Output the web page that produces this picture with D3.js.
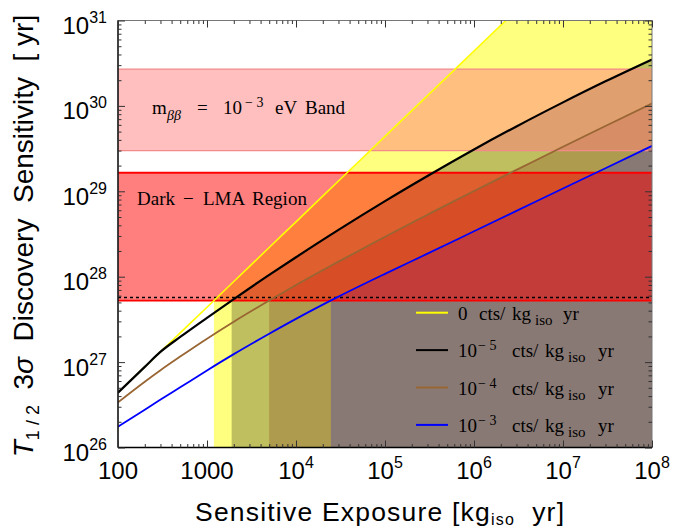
<!DOCTYPE html>
<html>
<head>
<meta charset="utf-8">
<script src="https://cdn.jsdelivr.net/npm/d3@7"></script>
<style>
  body { margin: 0; background: #fff; }
  text { font-family: "Liberation Sans", Arial, sans-serif; }
  .serif { font-family: "Liberation Serif", "Times New Roman", serif; }
</style>
</head>
<body>
<div id="chart"></div>
<script>
// Sensitive exposure [kg_iso yr]
var exposure = [100, 200, 295, 500, 1000, 2000, 5000, 1e4, 3e4, 1e5, 3e5, 1e6, 3e6, 1e7, 3e7, 1e8];

// 3 sigma discovery half-life sensitivity [yr] for each background level
var bkg0    = [4.39e26, 8.78e26, 1.30e27, 2.2e27, 4.39e27, 8.78e27, 2.2e28, 4.39e28, 1.32e29, 4.39e29, 1.32e30, 4.39e30, 1.32e31, 4.39e31, 1.32e32, 4.39e32];
var bkg1em5 = [4.39e26, 8.8e26, 1.30e27, 1.97e27, 3.30e27, 5.47e27, 1.05e28, 1.69e28, 3.53e28, 7.67e28, 1.51e29, 3.09e29, 5.75e29, 1.10e30, 1.94e30, 3.50e30];
var bkg1em4 = [3.38e26, 5.9e26, 7.93e26, 1.16e27, 1.88e27, 2.97e27, 5.26e27, 7.98e27, 1.50e28, 2.94e28, 5.32e28, 1.01e29, 1.78e29, 3.32e29, 5.81e29, 1.07e30];
var bkg1em3 = [1.75e26, 2.77e26, 3.59e26, 5.07e26, 7.99e26, 1.24e27, 2.15e27, 3.21e27, 5.84e27, 1.08e28, 1.86e28, 3.40e28, 5.90e28, 1.08e29, 1.86e29, 3.40e29];

// horizontal bands [yr]
var mbbBand = [3.0e29, 2.7e30];
var lmaBand = [5.25e27, 1.65e29];
var dashedLevel = 5.7e27;

// tick labels
var xTicks = [1e2, 1e3, 1e4, 1e5, 1e6, 1e7, 1e8];
var xTickLabels = ["100", "1000", "10^4", "10^5", "10^6", "10^7", "10^8"];
var yTicks = [1e26, 1e27, 1e28, 1e29, 1e30, 1e31];
var yTickLabels = ["10^26", "10^27", "10^28", "10^29", "10^30", "10^31"];

var series = [
  { values: bkg0,    color: "#ffff00", fill: "rgba(255,255,0,0.5)",  width: 1.6, exp: null },
  { values: bkg1em5, color: "#000000", fill: "rgba(0,0,0,0.25)",     width: 2.2, exp: "5" },
  { values: bkg1em4, color: "#996633", fill: "rgba(153,102,51,0.4)", width: 1.8, exp: "4" },
  { values: bkg1em3, color: "#0000ff", fill: "rgba(0,0,255,0.22)",   width: 1.8, exp: "3" }
];

var W = 673, H = 529;
var margin = { top: 20.5, right: 21, bottom: 81.5, left: 118 },
    width = W - margin.left - margin.right,
    height = H - margin.top - margin.bottom;

var svg = d3.select("#chart").append("svg")
    .attr("width", W).attr("height", H);

var g = svg.append("g")
    .attr("transform", `translate(${margin.left},${margin.top})`);

var x = d3.scaleLog().domain([1e2, 1e8]).range([0, width]);
var y = d3.scaleLog().domain([1e26, 1e31]).range([height, 0]);

g.append("clipPath").attr("id", "plotclip")
  .append("rect").attr("width", width).attr("height", height);

var plot = g.append("g").attr("clip-path", "url(#plotclip)");

// exposure where a curve enters the LMA band (log interpolation)
function crossing(vals, level) {
  for (var i = 1; i < vals.length; i++) {
    if (vals[i] >= level && vals[i - 1] < level) {
      var t = (Math.log(level) - Math.log(vals[i - 1])) / (Math.log(vals[i]) - Math.log(vals[i - 1]));
      return Math.exp(Math.log(exposure[i - 1]) + t * (Math.log(exposure[i]) - Math.log(exposure[i - 1])));
    }
  }
  return exposure[0];
}

// filled regions below each curve, right of where it enters the LMA band
series.forEach(function(s) {
  var xc = crossing(s.values, lmaBand[0]);
  var pts = [[xc, lmaBand[0]]];
  exposure.forEach(function(e, i) { if (e > xc) pts.push([e, s.values[i]]); });
  plot.append("path")
    .attr("d", d3.area().curve(d3.curveMonotoneX)
      .x(d => x(d[0])).y0(height).y1(d => y(d[1]))(pts))
    .attr("fill", s.fill);
});

// bands
plot.append("rect")
  .attr("x", 0).attr("width", width)
  .attr("y", y(mbbBand[1])).attr("height", y(mbbBand[0]) - y(mbbBand[1]))
  .attr("fill", "rgba(255,128,128,0.5)");
plot.append("rect")
  .attr("x", 0).attr("width", width)
  .attr("y", y(lmaBand[1])).attr("height", y(lmaBand[0]) - y(lmaBand[1]))
  .attr("fill", "rgba(255,0,0,0.5)");

mbbBand.forEach(function(v) {
  plot.append("line").attr("x1", 0).attr("x2", width).attr("y1", y(v)).attr("y2", y(v))
    .attr("stroke", "#f28a8a").attr("stroke-width", 1.3);
});
lmaBand.forEach(function(v) {
  plot.append("line").attr("x1", 0).attr("x2", width).attr("y1", y(v)).attr("y2", y(v))
    .attr("stroke", "#ff0000").attr("stroke-width", 1.8);
});
plot.append("line").attr("x1", 0).attr("x2", width)
  .attr("y1", y(dashedLevel)).attr("y2", y(dashedLevel))
  .attr("stroke", "#000").attr("stroke-width", 1.5).attr("stroke-dasharray", "3,3");

// curves
var line = d3.line().curve(d3.curveMonotoneX).x((d, i) => x(exposure[i])).y(d => y(d));
series.forEach(function(s) {
  plot.append("path").attr("d", line(s.values))
    .attr("fill", "none").attr("stroke", s.color).attr("stroke-width", s.width);
});

// frame
g.append("rect").attr("width", width).attr("height", height)
  .attr("fill", "none").attr("stroke", "#777").attr("stroke-width", 1);
g.append("line").attr("x1", 0).attr("x2", 0).attr("y1", 0).attr("y2", height)
  .attr("stroke", "#000").attr("stroke-width", 1.3);
g.append("line").attr("x1", 0).attr("x2", width).attr("y1", height).attr("y2", height)
  .attr("stroke", "#000").attr("stroke-width", 1.3);

// ticks (inside, all four sides)
var xMinor = [], yMinor = [];
for (var d = 2; d < 8; d++) for (var k = 2; k < 10; k++) xMinor.push(k * Math.pow(10, d));
for (var d = 26; d < 31; d++) for (var k = 2; k < 10; k++) yMinor.push(k * Math.pow(10, d));

function tickAxis(axis, tr, vals, size) {
  var a = g.append("g").attr("transform", tr)
    .call(axis.tickValues(vals).tickSize(size).tickFormat(""));
  a.select(".domain").remove();
  a.selectAll("line").attr("stroke", "#333").attr("stroke-width", 1);
}
tickAxis(d3.axisBottom(x), `translate(0,${height})`, xTicks, -7);
tickAxis(d3.axisBottom(x), `translate(0,${height})`, xMinor, -3.5);
tickAxis(d3.axisTop(x), "translate(0,0)", xTicks, -7);
tickAxis(d3.axisTop(x), "translate(0,0)", xMinor, -3.5);
tickAxis(d3.axisLeft(y), "translate(0,0)", yTicks, -7);
tickAxis(d3.axisLeft(y), "translate(0,0)", yMinor, -3.5);
tickAxis(d3.axisRight(y), `translate(${width},0)`, yTicks, -7);
tickAxis(d3.axisRight(y), `translate(${width},0)`, yMinor, -3.5);

// tick labels
function powerLabel(sel, label) {
  var parts = label.split("^");
  sel.append("tspan").text(parts[0]);
  if (parts[1]) sel.append("tspan").attr("dy", -11).attr("font-size", "16px").text(parts[1]);
}
xTicks.forEach(function(v, i) {
  var t = g.append("text").attr("x", x(v)).attr("y", height + 31.5)
    .attr("text-anchor", "middle").attr("font-size", "24px").attr("fill", "#000");
  powerLabel(t, xTickLabels[i]);
});
yTicks.forEach(function(v, i) {
  var t = g.append("text").attr("x", -11).attr("y", y(v) + 13.4)
    .attr("text-anchor", "end").attr("font-size", "24px").attr("fill", "#000");
  powerLabel(t, yTickLabels[i]);
});

// axis titles
var xt = svg.append("text").attr("x", 195).attr("y", 521)
  .attr("font-size", "26.5px").attr("letter-spacing", "1.2px").attr("xml:space", "preserve");
xt.append("tspan").text("Sensitive Exposure [kg");
xt.append("tspan").attr("font-size", "16px").attr("dy", 4).text("iso");
xt.append("tspan").attr("dy", -4).text("  yr]");

var yt = svg.append("text").attr("transform", "translate(33,236) rotate(-90)")
  .attr("text-anchor", "middle").attr("font-size", "28px").attr("xml:space", "preserve");
yt.append("tspan").attr("font-style", "italic").text("T");
yt.append("tspan").attr("font-size", "18px").attr("dy", 6).text("1 / 2");
yt.append("tspan").attr("dy", -6).text("  3");
yt.append("tspan").attr("font-style", "italic").text("σ");
yt.append("tspan").text("  Discovery  Sensitivity  [ yr]");

// band annotations (pieces placed at page x positions)
function piece(t, px, str, opts) {
  var ts = t.append("tspan").attr("x", px - margin.left).text(str);
  if (opts) Object.keys(opts).forEach(k => ts.attr(k, opts[k]));
  return ts;
}
var mt = g.append("text").attr("class", "serif").attr("y", 114 - margin.top)
  .attr("font-size", "19px");
piece(mt, 152, "m");
piece(mt, 167, "ββ", { "font-style": "italic", "font-size": "14px", dy: 5.5 });
piece(mt, 197, "=", { dy: -5.5 });
piece(mt, 223, "10");
piece(mt, 245, "− 3", { "font-size": "14px", dy: -7 });
piece(mt, 275, "eV", { dy: 7 });
piece(mt, 305, "Band");

var dt = g.append("text").attr("class", "serif").attr("y", 204.5 - margin.top)
  .attr("font-size", "19px");
piece(dt, 137, "Dark");
piece(dt, 183, "−");
piece(dt, 203, "LMA");
piece(dt, 252, "Region");

// legend
series.forEach(function(s, i) {
  var ly = 312.7 + i * 37.4 - margin.top;
  g.append("line").attr("x1", 416 - margin.left).attr("x2", 448 - margin.left)
    .attr("y1", ly).attr("y2", ly).attr("stroke", s.color).attr("stroke-width", 2);
  var t = g.append("text").attr("class", "serif").attr("y", ly + 7)
    .attr("font-size", "19px");
  if (s.exp === null) {
    piece(t, 458, "0");
    piece(t, 479, "cts/");
    piece(t, 512, "kg");
    piece(t, 535, "iso", { "font-size": "15px", dy: 5 });
    piece(t, 563, "yr", { dy: -5 });
  } else {
    piece(t, 458, "10");
    piece(t, 478, "− " + s.exp, { "font-size": "14px", dy: -7 });
    piece(t, 512, "cts/", { dy: 7 });
    piece(t, 545, "kg");
    piece(t, 568, "iso", { "font-size": "15px", dy: 5 });
    piece(t, 598, "yr", { dy: -5 });
  }
});
</script>
</body>
</html>
